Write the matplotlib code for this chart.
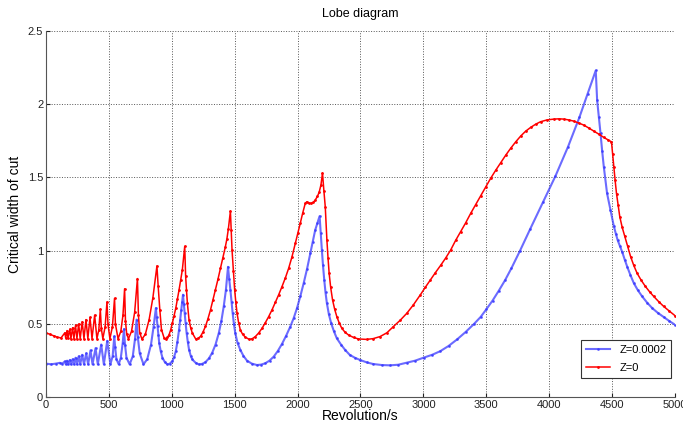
import numpy as np
import matplotlib
matplotlib.use('Agg')
from matplotlib import pyplot as plt

plt.rcParams['font.family'] = ['Liberation Sans', 'DejaVu Sans']

# Z=0 curve (red)
redX = [0, 30, 60, 90, 120,
        150, 157, 168, 175, 190, 198, 212, 222, 235, 246, 260, 272,
        288, 302, 318, 333, 350, 366, 387, 405, 420, 432, 440, 452,
        470, 485, 493, 508, 528, 545, 552, 573, 595, 612, 625, 632,
        642, 656, 680, 705, 727, 735, 745, 763, 790, 820, 850, 882,
        892, 905, 918, 939, 953, 966, 979, 992, 1005, 1018, 1032, 1045,
        1058, 1071, 1084, 1103,
        1110, 1117, 1124, 1137, 1150, 1163, 1190, 1210, 1229, 1248, 1268,
        1288, 1308, 1327, 1347, 1367, 1387, 1407, 1426, 1438, 1450, 1466,
        1472, 1479, 1490, 1500, 1509, 1519, 1531, 1545, 1563, 1585, 1616,
        1640, 1664, 1690, 1717, 1743, 1770, 1797, 1823, 1850, 1876, 1903,
        1929, 1956, 1982, 2002, 2021, 2040, 2061, 2074, 2090, 2109, 2125,
        2140, 2157, 2172, 2186, 2198, 2209, 2220, 2233, 2242, 2251, 2263,
        2278, 2295, 2312, 2332, 2352, 2378, 2405, 2445, 2484, 2548, 2600,
        2655, 2710, 2761, 2815, 2868, 2920, 2975, 3015, 3055, 3095, 3137,
        3177, 3217, 3256, 3296, 3336, 3376, 3416, 3455, 3495, 3534, 3574,
        3614, 3653, 3693, 3733, 3773, 3812, 3852, 3892, 3931, 3985, 4037,
        4077, 4117, 4157, 4196, 4236, 4275, 4315, 4355, 4395, 4434, 4465,
        4495, 4504, 4513, 4524, 4535, 4548, 4561, 4580, 4600, 4623, 4647,
        4672, 4699, 4730, 4765, 4798, 4831, 4870, 4910, 4955, 5000]
redY = [0.44, 0.43, 0.42, 0.41, 0.405,
        0.44, 0.405, 0.455, 0.405, 0.465, 0.40, 0.475, 0.40, 0.49, 0.40, 0.50, 0.40,
        0.515, 0.40, 0.53, 0.40, 0.545, 0.40, 0.56, 0.40, 0.46, 0.60, 0.47, 0.40,
        0.48, 0.65, 0.50, 0.40, 0.48, 0.675, 0.50, 0.40, 0.45, 0.56, 0.74, 0.52,
        0.43, 0.40, 0.45, 0.58, 0.81, 0.56, 0.44, 0.397, 0.43, 0.53, 0.68, 0.896,
        0.756, 0.597, 0.462, 0.405, 0.398, 0.408, 0.428, 0.462, 0.507, 0.555, 0.609, 0.67,
        0.733, 0.80, 0.87, 1.03,
        0.83, 0.73, 0.643, 0.529, 0.475, 0.439, 0.398, 0.402, 0.416, 0.445, 0.484,
        0.537, 0.597, 0.663, 0.733, 0.805, 0.88, 0.953, 1.027, 1.08, 1.15, 1.27,
        1.14, 1.005, 0.86, 0.73, 0.65, 0.573, 0.51, 0.459, 0.43, 0.41, 0.395,
        0.40, 0.414, 0.438, 0.47, 0.508, 0.55, 0.597, 0.648, 0.70, 0.755, 0.815,
        0.88, 0.96, 1.05, 1.12, 1.186, 1.255, 1.323, 1.334, 1.325, 1.323, 1.33,
        1.345, 1.37, 1.40, 1.45, 1.53, 1.41, 1.30, 1.073, 0.95, 0.845, 0.75,
        0.664, 0.60, 0.55, 0.505, 0.47, 0.443, 0.425, 0.408, 0.398, 0.395, 0.40,
        0.414, 0.44, 0.482, 0.525, 0.573, 0.63, 0.698, 0.75, 0.80, 0.85, 0.90,
        0.95, 1.005, 1.07, 1.13, 1.19, 1.255, 1.315, 1.375, 1.435, 1.493, 1.548,
        1.60, 1.65, 1.698, 1.742, 1.782, 1.815, 1.841, 1.863, 1.88, 1.893, 1.898,
        1.90, 1.898, 1.892, 1.884, 1.871, 1.857, 1.837, 1.816, 1.795, 1.773, 1.758,
        1.743, 1.66, 1.573, 1.48, 1.39, 1.31, 1.232, 1.16, 1.10, 1.03, 0.96,
        0.90, 0.846, 0.80, 0.756, 0.72, 0.688, 0.653, 0.62, 0.588, 0.557]

# Z=0.0002 curve (blue)
blueX = [0, 40, 80, 110, 130,
         150, 157, 168, 175, 190, 198, 212, 222, 235, 246, 260, 272,
         288, 302, 320, 335, 354, 370, 394, 412, 439, 460, 487, 512,
         530, 543, 550, 560, 578, 595, 610, 620, 628, 640, 665, 690,
         708, 720, 730, 745, 775, 805, 835, 855, 874, 880, 887, 893, 900,
         912, 926, 945, 966, 985, 1005, 1018, 1032, 1045, 1058, 1067, 1076,
         1083, 1089, 1096, 1103, 1110, 1118, 1127, 1137, 1150, 1163, 1190,
         1216, 1242, 1268, 1295, 1321, 1348, 1374, 1394, 1413, 1430, 1447,
         1456, 1466, 1475, 1484, 1494, 1505, 1523, 1545, 1570, 1598, 1635,
         1677, 1710, 1743, 1777, 1810, 1843, 1876, 1909, 1942, 1969, 1995,
         2022, 2048, 2075, 2101, 2120, 2140, 2158, 2175, 2184, 2193, 2202,
         2212, 2222, 2233, 2249, 2267, 2289, 2312, 2345, 2378, 2415, 2455,
         2495, 2550, 2601, 2670, 2735, 2800, 2868, 2935, 3001, 3070, 3135,
         3200, 3268, 3335, 3402, 3455, 3500, 3550, 3600, 3650, 3700, 3768,
         3850, 3950, 4050, 4150, 4240, 4305, 4370,
         4381, 4395, 4408, 4421, 4434, 4460, 4487, 4513, 4530, 4545, 4563,
         4581, 4600, 4620, 4645, 4673, 4705, 4739, 4778, 4818, 4862, 4910,
         4955, 5000]
blueY = [0.23, 0.225, 0.23, 0.235, 0.23,
         0.245, 0.225, 0.25, 0.225, 0.255, 0.225, 0.26, 0.225, 0.27, 0.225, 0.28, 0.225,
         0.29, 0.225, 0.30, 0.225, 0.32, 0.225, 0.335, 0.225, 0.36, 0.225, 0.385, 0.225,
         0.28, 0.415, 0.34, 0.26, 0.225, 0.27, 0.37, 0.465, 0.36, 0.27, 0.225, 0.28,
         0.40, 0.53, 0.41, 0.30, 0.225, 0.26, 0.36, 0.48, 0.609, 0.545, 0.484, 0.425, 0.371,
         0.315, 0.269, 0.24, 0.224, 0.23, 0.247, 0.273, 0.314, 0.38, 0.462, 0.53, 0.597,
         0.65, 0.70, 0.635, 0.575, 0.505, 0.439, 0.38, 0.326, 0.285, 0.258, 0.235,
         0.224, 0.228, 0.24, 0.265, 0.303, 0.36, 0.439, 0.52, 0.62, 0.73, 0.89,
         0.81, 0.732, 0.65, 0.573, 0.50, 0.436, 0.37, 0.323, 0.282, 0.25, 0.23,
         0.22, 0.223, 0.232, 0.25, 0.277, 0.316, 0.364, 0.42, 0.482, 0.54, 0.607,
         0.69, 0.777, 0.875, 0.982, 1.06, 1.141, 1.19, 1.236, 1.12, 1.005, 0.90,
         0.80, 0.715, 0.641, 0.565, 0.505, 0.45, 0.402, 0.36, 0.323, 0.289, 0.27,
         0.255, 0.238, 0.227, 0.22, 0.218, 0.222, 0.236, 0.25, 0.27, 0.29, 0.315,
         0.35, 0.395, 0.445, 0.50, 0.548, 0.60, 0.66, 0.728, 0.80, 0.881, 1.0,
         1.15, 1.33, 1.51, 1.71, 1.91, 2.07, 2.23,
         2.027, 1.91, 1.80, 1.68, 1.573, 1.391, 1.277, 1.17, 1.115, 1.07, 1.03,
         0.99, 0.94, 0.891, 0.835, 0.778, 0.73, 0.688, 0.646, 0.609, 0.577, 0.548,
         0.52, 0.495]

xTicks = list(range(0, 5001, 500))
yTicks = [0, 0.5, 1, 1.5, 2, 2.5]
yTickLabels = ['0', '0.5', '1', '1.5', '2', '2.5']

fig = plt.figure(figsize=(6.83, 4.23), dpi=100)
ax = fig.add_axes([0.0673, 0.0608, 0.921, 0.8662])

ax.plot(blueX, blueY, color='#3a3aff', lw=1.5, marker='.', ms=2,
        alpha=0.75, label='Z=0.0002')
ax.plot(redX, redY, color='red', lw=1.1, marker='.', ms=2, label='Z=0')

ax.set_xlim(0, 5000)
ax.set_ylim(0, 2.5)
ax.set_xticks(xTicks)
ax.set_yticks(yTicks)
ax.set_yticklabels(yTickLabels)
ax.tick_params(direction='in', length=3, labelsize=8, colors='#222222', pad=2)
ax.grid(True, linestyle=':', color='#555555', linewidth=0.7)
ax.spines['top'].set_visible(False)
ax.spines['right'].set_visible(False)
for s in ['left', 'bottom']:
    ax.spines[s].set_color('#555555')

ax.set_title('Lobe diagram', fontsize=9, pad=10)
ax.set_xlabel('Revolution/s', fontsize=10, labelpad=-1)
ax.set_ylabel('Critical width of cut', fontsize=10, labelpad=4)

leg = ax.legend(loc='lower right', bbox_to_anchor=(1.003, 0.038),
                fontsize=8, fancybox=False, framealpha=1,
                edgecolor='#333333', borderpad=0.45, handlelength=2.2,
                labelspacing=0.7)
leg.get_frame().set_linewidth(0.8)

plt.savefig('out.png', dpi=100)
